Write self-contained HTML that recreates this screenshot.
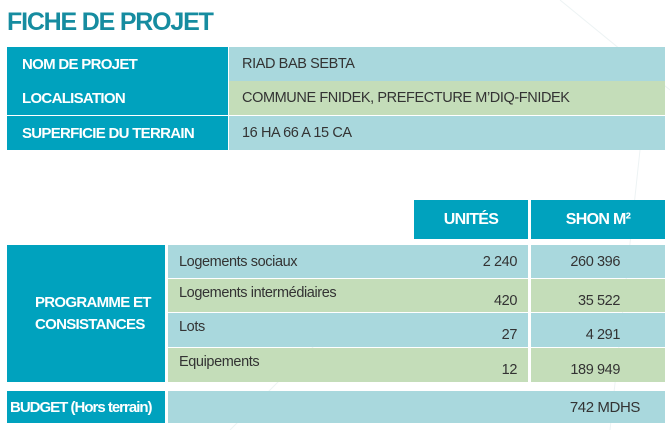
<!DOCTYPE html>
<html><head><meta charset="utf-8"><style>
body{margin:0;width:670px;height:430px;background:#fff;position:relative;overflow:hidden;font-family:"Liberation Sans",sans-serif;}
.a{position:absolute;box-sizing:border-box;display:flex;align-items:center;}
.d{background:#00a2be;color:#fff;font-weight:bold;font-size:15px;letter-spacing:-0.7px;}
.b{background:#a9d8dd;color:#333;font-size:14.5px;letter-spacing:-0.4px;}
.g{background:#c4ddb9;color:#333;font-size:14.5px;letter-spacing:-0.4px;}
.r{justify-content:flex-end;}
</style></head><body>
<svg style="position:absolute;left:0;top:0" width="670" height="430"><g stroke="#edf3f4" stroke-width="1" fill="none"><line x1="560" y1="0" x2="670" y2="90"/><line x1="640" y1="150" x2="610" y2="430"/><line x1="230" y1="430" x2="330" y2="330"/></g></svg>
<div class="a" style="left:7px;top:8px;font-size:25px;font-weight:bold;color:#168ca0;letter-spacing:-1.2px;">FICHE DE PROJET</div>
<div class="a d" style="left:7px;top:47px;width:221px;height:68px;"></div>
<div class="a d" style="left:22px;top:47px;height:34px;background:none">NOM DE PROJET</div>
<div class="a d" style="left:22px;top:81px;height:34px;background:none">LOCALISATION</div>
<div class="a d" style="left:7px;top:116px;width:221px;height:34px;padding-left:15px">SUPERFICIE DU TERRAIN</div>
<div class="a b" style="left:229px;top:47px;width:436px;height:34px;padding-left:13px">RIAD BAB SEBTA</div>
<div class="a g" style="left:229px;top:81px;width:436px;height:34px;padding-left:13px">COMMUNE FNIDEK, PREFECTURE M’DIQ-FNIDEK</div>
<div class="a b" style="left:229px;top:116px;width:436px;height:34px;padding-left:13px">16 HA 66 A 15 CA</div>

<div class="a d" style="left:414px;top:200px;width:114px;height:39px;justify-content:center;font-size:16px">UNITÉS</div>
<div class="a d" style="left:531px;top:200px;width:134px;height:39px;justify-content:center;font-size:16px">SHON M²</div>
<div class="a d" style="left:7px;top:245px;width:158px;height:137px;padding-left:28px;line-height:22px">PROGRAMME ET<br>CONSISTANCES</div>
<div class="a b" style="left:168px;top:245px;width:360px;height:33px;padding:0 11px">Logements sociaux<span style="margin-left:auto">2 240</span></div>
<div class="a b r" style="left:531px;top:245px;width:134px;height:33px;padding-right:45px">260 396</div>
<div class="a g" style="left:168px;top:279px;width:360px;height:33px;padding:0 11px;align-items:flex-start;padding-top:6px">Logements intermédiaires<span style="margin-left:auto;margin-top:8px">420</span></div>
<div class="a g r" style="left:531px;top:279px;width:134px;height:33px;padding-right:45px;padding-top:10px">35 522</div>
<div class="a b" style="left:168px;top:313px;width:360px;height:34px;padding:0 11px;align-items:flex-start;padding-top:6px">Lots<span style="margin-left:auto;margin-top:8px">27</span></div>
<div class="a b r" style="left:531px;top:313px;width:134px;height:34px;padding-right:45px;padding-top:10px">4 291</div>
<div class="a g" style="left:168px;top:348px;width:360px;height:34px;padding:0 11px;align-items:flex-start;padding-top:6px">Equipements<span style="margin-left:auto;margin-top:8px">12</span></div>
<div class="a g r" style="left:531px;top:348px;width:134px;height:34px;padding-right:45px;padding-top:10px">189 949</div>
<div class="a d" style="left:7px;top:391px;width:158px;height:32px;padding-left:3px;letter-spacing:-1px">BUDGET (Hors terrain)</div>
<div class="a b r" style="left:168px;top:391px;width:497px;height:32px;padding-right:25px;font-size:15px">742 MDHS</div>
</body></html>
